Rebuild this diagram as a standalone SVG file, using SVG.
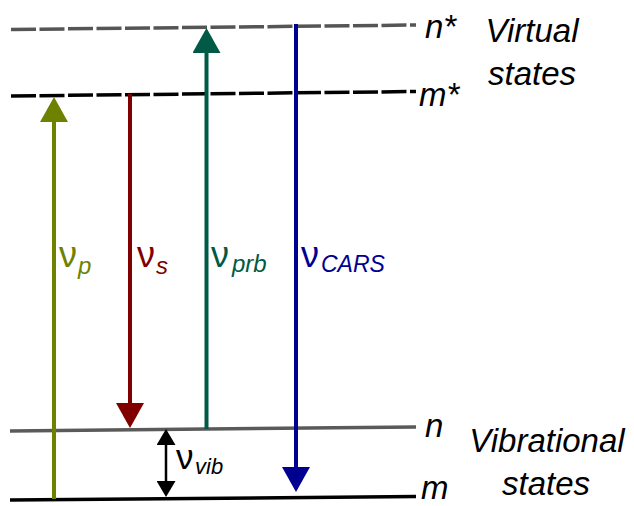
<svg xmlns="http://www.w3.org/2000/svg" width="634" height="506" viewBox="0 0 634 506">
<style>
text{font-family:"Liberation Sans",Arial,sans-serif;}
.lbl{font-size:33px;font-style:italic;fill:#000;}
.nu{font-size:36px;}
.sub{font-size:24px;font-style:italic;}
.shaft{stroke-width:4;fill:none;}
.lev{fill:none;stroke-width:3.5;}
</style>
<defs>
<marker id="hp" markerUnits="userSpaceOnUse" viewBox="0 0 25 28" refX="0" refY="14" markerWidth="25" markerHeight="28" orient="auto"><path d="M0,0 L25,14 L0,28 z" fill="#6e8200"/></marker>
<marker id="hs" markerUnits="userSpaceOnUse" viewBox="0 0 25 28" refX="0" refY="14" markerWidth="25" markerHeight="28" orient="auto"><path d="M0,0 L25,14 L0,28 z" fill="#800000"/></marker>
<marker id="hr" markerUnits="userSpaceOnUse" viewBox="0 0 25 28" refX="0" refY="14" markerWidth="25" markerHeight="28" orient="auto"><path d="M0,0 L25,14 L0,28 z" fill="#005a46"/></marker>
<marker id="hc" markerUnits="userSpaceOnUse" viewBox="0 0 25 28" refX="0" refY="14" markerWidth="25" markerHeight="28" orient="auto"><path d="M0,0 L25,14 L0,28 z" fill="#000090"/></marker>
<marker id="hv" markerUnits="userSpaceOnUse" viewBox="0 0 16 19" refX="0" refY="9.5" markerWidth="16" markerHeight="19" orient="auto-start-reverse"><path d="M0,0 L16,9.5 L0,19 z" fill="#000"/></marker>
</defs>

<g id="levels">
<g id="level-nstar"><line class="lev" x1="11" y1="29.5" x2="416" y2="25" stroke="#555" stroke-dasharray="25 3.5"/><text class="lbl" x="425" y="38">n*</text></g>
<g id="level-mstar"><line class="lev" x1="11" y1="96" x2="416" y2="91.5" stroke="#000" stroke-dasharray="25 3.5"/><text class="lbl" x="419" y="106">m*</text></g>
<g id="level-n"><line class="lev" x1="10" y1="431" x2="416" y2="427" stroke="#5a5a5a" stroke-width="3"/><text class="lbl" x="425" y="437">n</text></g>
<g id="level-m"><line class="lev" x1="10" y1="500" x2="416" y2="496.5" stroke="#000"/><text class="lbl" x="421" y="499">m</text></g>
</g>

<g id="captions">
<text class="lbl" x="532" y="42" text-anchor="middle">Virtual</text>
<text class="lbl" x="532" y="85" text-anchor="middle">states</text>
<text class="lbl" x="547" y="452" text-anchor="middle">Vibrational</text>
<text class="lbl" x="546" y="495" text-anchor="middle">states</text>
</g>

<g id="connectors">
<line class="shaft" x1="54" y1="499" x2="54" y2="122" stroke="#6e8200" marker-end="url(#hp)"/>
<line class="shaft" x1="130" y1="94" x2="130" y2="403" stroke="#800000" marker-end="url(#hs)"/>
<line class="shaft" x1="206.5" y1="429" x2="206.5" y2="53" stroke="#005a46" marker-end="url(#hr)"/>
<line class="shaft" x1="296" y1="24" x2="296" y2="467" stroke="#000090" marker-end="url(#hc)"/>
<line x1="166" y1="445" x2="166" y2="481" stroke="#000" stroke-width="2.5" marker-start="url(#hv)" marker-end="url(#hv)"/>
</g>

<g id="labels">
<g id="label-p" fill="#6e8200"><text class="nu" x="59" y="267">ν</text><text class="sub" x="78" y="274">p</text></g>
<g id="label-s" fill="#800000"><text class="nu" x="137" y="267">ν</text><text class="sub" x="156" y="274">s</text></g>
<g id="label-prb" fill="#005a46"><text class="nu" x="211" y="267">ν</text><text class="sub" x="232" y="272">prb</text></g>
<g id="label-cars" fill="#000090"><text class="nu" x="301" y="267">ν</text><text class="sub" x="321" y="272" style="font-size:23px">CARS</text></g>
<g id="label-vib" fill="#000"><text class="nu" x="176" y="469" style="font-size:35px">ν</text><text class="sub" x="195" y="474" style="font-size:22px">vib</text></g>
</g>
</svg>
